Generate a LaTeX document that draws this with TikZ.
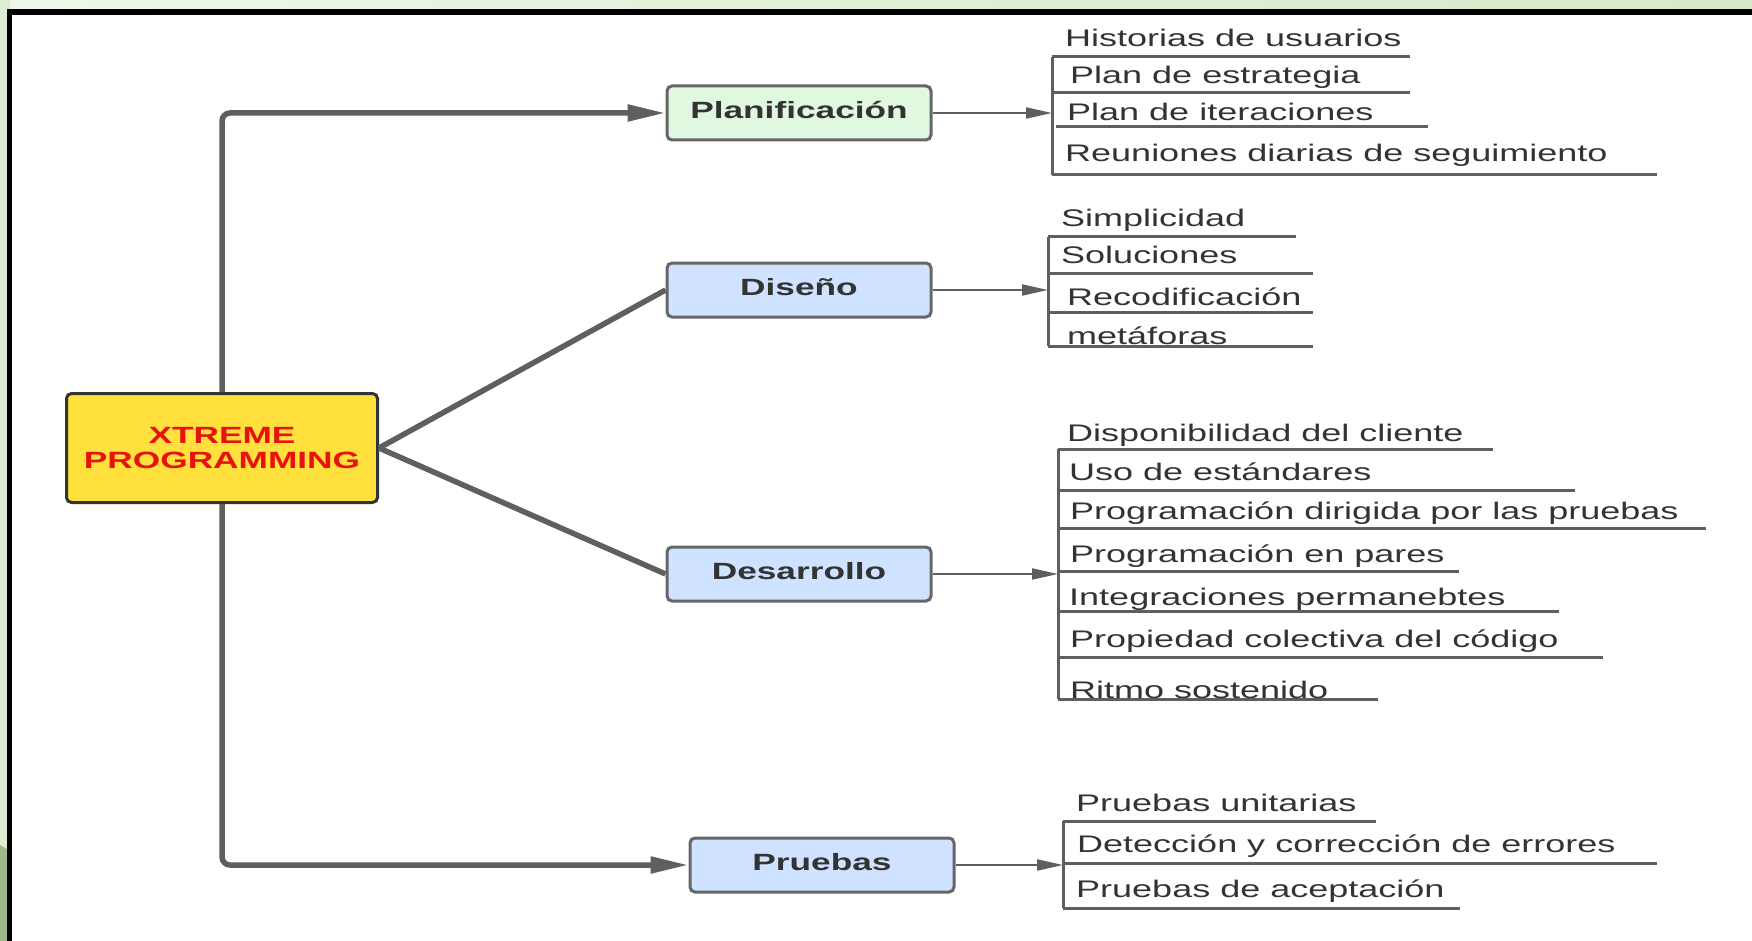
\documentclass[tikz,border=0pt]{standalone}
\usepackage{fontspec}
\setmainfont{Liberation Sans}[FakeStretch=1.5]
\usetikzlibrary{arrows.meta}

\definecolor{linegray}{HTML}{5F5F5F}
\definecolor{boxgray}{HTML}{666666}
\definecolor{textdark}{HTML}{333333}
\definecolor{coreyellow}{HTML}{FFE03C}
\definecolor{corered}{HTML}{E8120C}
\definecolor{plangreen}{HTML}{E0F8E0}
\definecolor{stepblue}{HTML}{CFE2FF}
\definecolor{edgegreen}{HTML}{D4EAC7}
\definecolor{edgedark}{HTML}{9DB98A}

\begin{document}
\begin{tikzpicture}[x=1pt,y=-1pt,
    box/.style={draw=boxgray, line width=3pt, rounded corners=5pt,
      minimum width=264pt, minimum height=54pt, inner sep=0pt,
      text height=17pt, text depth=6pt,
      font=\fontsize{23.5}{25}\selectfont\bfseries, text=textdark},
    core/.style={draw=textdark, line width=3pt, rounded corners=5pt,
      fill=coreyellow, minimum width=311pt, minimum height=109pt,
      align=center, font=\fontsize{23.5}{25}\selectfont\bfseries, text=corered},
    item/.style={anchor=west, inner sep=0pt,
      font=\fontsize{24}{26}\selectfont, text=textdark},
    trunk/.style={draw=linegray, line width=5.5pt, rounded corners=8pt},
    bigarrow/.style={trunk, -{Triangle[length=38pt,width=16pt]}},
    smallarrow/.style={draw=linegray, line width=2pt, -{Triangle[length=26pt,width=11pt]}},
    rule/.style={draw=linegray, line width=3pt}]

  % frame
  \useasboundingbox (0,0) rectangle (1752,941);
  \shade[left color=edgegreen!40, right color=edgegreen] (0,0) rectangle (1752,12);
  \fill[edgegreen!80] (0,0) rectangle (10,941);
  \fill[edgedark] (0,845) -- (10,851) -- (10,941) -- (0,941) -- cycle;
  \fill[white] (10,12) rectangle (1752,941);
  \draw[line width=5.5pt] (9.5,941) -- (9.5,12) -- (1752,12);

  % main boxes
  \node[core] (xp) at (222,448) {XTREME\\PROGRAMMING};
  \node[box, fill=plangreen] (plan) at (799,113) {Planificación};
  \node[box, fill=stepblue] (dis) at (799,290) {Diseño};
  \node[box, fill=stepblue] (des) at (799,574) {Desarrollo};
  \node[box, fill=stepblue] (pru) at (822,865) {Pruebas};

  \draw[bigarrow] (xp.north) -- (xp.north |- plan.west) -- (plan.west);
  \draw[bigarrow] (xp.south) -- (xp.south |- pru.west) -- (pru.west);
  \draw[trunk] (xp.east) -- (dis.west);
  \draw[trunk] (xp.east) -- (des.west);

  % Planificacion
  \coordinate (b1) at (1052,57);
  \draw[rule] (1052,57) -- (1052,175);
  \draw[rule] (1052,57) -- (1410,57);
  \draw[rule] (1052,93) -- (1410,93);
  \draw[rule] (1056,127) -- (1428,127);
  \draw[rule] (1052,175) -- (1657,175);
  \draw[smallarrow] (plan.east) -- (plan.east -| b1);
  \node[item] (pl1) at (1065,38) {Historias de usuarios};
  \node[item] (pl2) at (1070,77) {Plan de estrategia};
  \node[item] (pl3) at (1067,112) {Plan de iteraciones};
  \node[item] (pl4) at (1065,155) {Reuniones diarias de seguimiento};

  % Diseno
  \coordinate (b2) at (1048,237);
  \draw[rule] (1048,237) -- (1048,346);
  \draw[rule] (1048,237) -- (1296,237);
  \draw[rule] (1048,273) -- (1313,273);
  \draw[rule] (1048,312) -- (1313,312);
  \draw[rule] (1048,346) -- (1313,346);
  \draw[smallarrow] (dis.east) -- (dis.east -| b2);
  \node[item] (di1) at (1061,220) {Simplicidad};
  \node[item] (di2) at (1061,255) {Soluciones};
  \node[item] (di3) at (1067,297) {Recodificación};
  \node[item] (di4) at (1067,336) {metáforas};

  % Desarrollo
  \coordinate (b3) at (1058,449);
  \draw[rule] (1058,449) -- (1058,699);
  \draw[rule] (1058,449) -- (1493,449);
  \draw[rule] (1058,490) -- (1575,490);
  \draw[rule] (1058,528) -- (1706,528);
  \draw[rule] (1058,571) -- (1459,571);
  \draw[rule] (1058,611) -- (1559,611);
  \draw[rule] (1058,657) -- (1603,657);
  \draw[rule] (1058,699) -- (1378,699);
  \draw[smallarrow] (des.east) -- (des.east -| b3);
  \node[item] (de1) at (1067,435) {Disponibilidad del cliente};
  \node[item] (de2) at (1069,472) {Uso de estándares};
  \node[item] (de3) at (1070,513) {Programación dirigida por las pruebas};
  \node[item] (de4) at (1070,556) {Programación en pares};
  \node[item] (de5) at (1069,599) {Integraciones permanebtes};
  \node[item] (de6) at (1070,641) {Propiedad colectiva del código};
  \node[item] (de7) at (1070,690) {Ritmo sostenido};

  % Pruebas
  \coordinate (b4) at (1063,821);
  \draw[rule] (1063,821) -- (1063,908);
  \draw[rule] (1063,821) -- (1376,821);
  \draw[rule] (1063,863) -- (1657,863);
  \draw[rule] (1063,908) -- (1460,908);
  \draw[smallarrow] (pru.east) -- (pru.east -| b4);
  \node[item] (pr1) at (1076,803) {Pruebas unitarias};
  \node[item] (pr2) at (1077,846) {Detección y corrección de errores};
  \node[item] (pr3) at (1076,891) {Pruebas de aceptación};
\end{tikzpicture}
\end{document}
